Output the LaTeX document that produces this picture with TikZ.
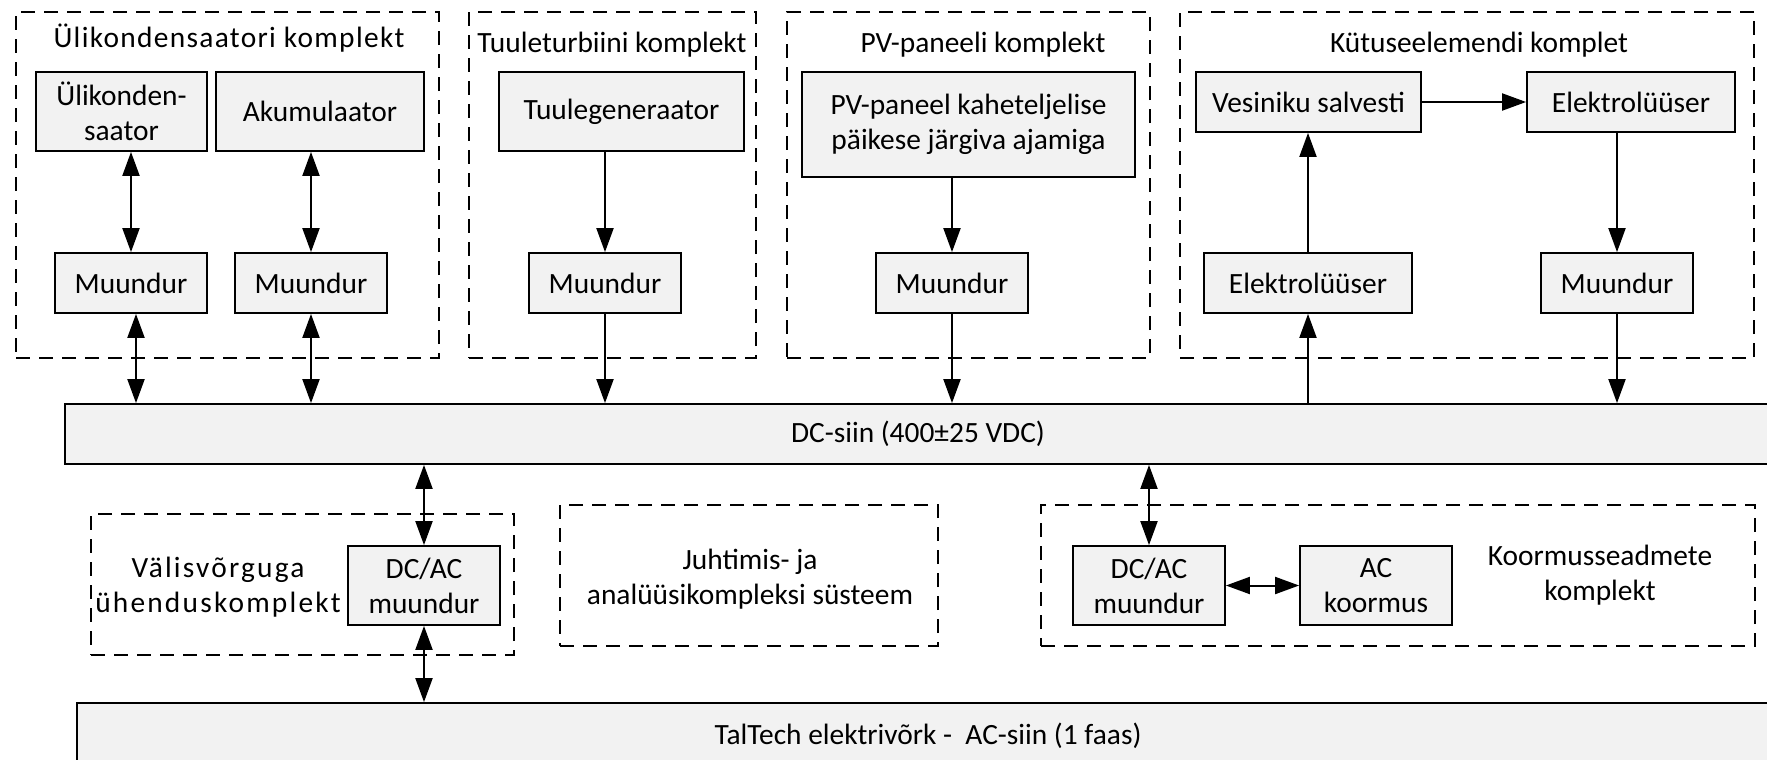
\documentclass[tikz,border=0pt]{standalone}
\usepackage{fontspec}
\setmainfont{Carlito}
\usetikzlibrary{arrows.meta,fit,calc}
\definecolor{boxfill}{HTML}{F2F2F2}
\begin{document}
\begin{tikzpicture}[x=0.5pt,y=-0.5pt,
  every node/.style={font=\fontsize{14.7pt}{17.5pt}\selectfont},
  blk/.style={draw, line width=0.9pt, fill=boxfill, inner sep=0pt, align=center},
  conv/.style={blk, minimum width=76pt, minimum height=30pt},
  grp/.style={draw, line width=0.9pt, dash pattern=on 7pt off 4.5pt, inner sep=0pt},
  ttl/.style={align=center, inner sep=0pt},
  tip/.tip={Triangle[length=12pt,width=8.5pt]},
  uni/.style={line width=1pt, -tip},
  bi/.style={line width=1pt, tip-tip},
]
\useasboundingbox (0,0) rectangle (1767,760);

% Supercapacitor set
\node[grp, fit={(16,12)(439,358)}] (g1) {};
\node[ttl, font=\fontsize{14.7pt}{17.5pt}\selectfont\addfontfeature{LetterSpace=4.5}] (g1t) at (229,38) {Ülikondensaatori komplekt};
\node[blk, minimum width=85.5pt, minimum height=39.5pt] (uk) at (121.5,111.5) {Ülikonden-\\saator};
\node[blk, minimum width=104pt, minimum height=39.5pt] (ak) at (320,111.5) {Akumulaator};
\node[conv] (m1) at (131,283) {Muundur};
\node[conv] (m2) at (311,283) {Muundur};

% Wind turbine set
\node[grp, fit={(469,12)(756,358)}] (g2) {};
\node[ttl] (g2t) at (612,45) {Tuuleturbiini komplekt};
\node[blk, minimum width=122.5pt, minimum height=39.5pt] (tg) at (621.5,111.5) {Tuulegeneraator};
\node[conv] (tm) at (605,283) {Muundur};

% PV panel set
\node[grp, fit={(787,12)(1150,358)}] (g3) {};
\node[ttl] (g3t) at (983,45) {PV-paneeli komplekt};
\node[blk, minimum width=166.5pt, minimum height=52.5pt] (pv) at (968.5,124.5) {PV-paneel kaheteljelise\\päikese järgiva ajamiga};
\node[conv] (pm) at (952,283) {Muundur};

% Fuel cell set
\node[grp, fit={(1180,12)(1754,358)}] (g4) {};
\node[ttl] (g4t) at (1479,45) {Kütuseelemendi komplet};
\node[blk, minimum width=112.5pt, minimum height=30pt] (vs) at (1308.5,102) {Vesiniku salvesti};
\node[blk, minimum width=104pt, minimum height=30pt] (el1) at (1631,102) {Elektrolüüser};
\node[blk, minimum width=104pt, minimum height=30pt] (el2) at (1308,283) {Elektrolüüser};
\node[conv] (fm) at (1617,283) {Muundur};

% Buses
\node[blk, minimum width=853pt, minimum height=30pt] (dc) at (918,434) {DC-siin (400±25 VDC)};
\node[blk, minimum width=851pt, minimum height=33pt] (ac) at (928,736) {TalTech elektrivõrk -\ \ AC-siin (1 faas)};

% Grid connection set
\node[grp, fit={(91,514)(514,655)}] (g5) {};
\node[ttl, font=\fontsize{14.7pt}{17.5pt}\selectfont\addfontfeature{LetterSpace=7.5}] (g5t) at (218,587) {Välisvõrguga\\ühenduskomplekt};
\node[blk, minimum width=76pt, minimum height=39.5pt] (wi) at (424,585.5) {DC/AC\\muundur};

% Control and analysis system
\node[grp, fit={(560,505)(938,646)}] (g6) {};
\node[ttl] (g6t) at (750,579) {Juhtimis- ja\\analüüsikompleksi süsteem};

% Load set
\node[grp, fit={(1041,505)(1755,646)}] (g7) {};
\node[blk, minimum width=76pt, minimum height=39.5pt] (kc) at (1149,585.5) {DC/AC\\muundur};
\node[blk, minimum width=76pt, minimum height=39.5pt] (ko) at (1376,585.5) {AC\\koormus};
\node[ttl] (g7t) at (1600,575) {Koormusseadmete\\komplekt};

% Connectors
\draw[bi] (uk.south -| m1) -- (m1.north);
\draw[bi] (ak.south -| m2) -- (m2.north);
\draw[bi] ($(m1.south)+(5,0)$) -- ($(m1.south |- dc.north)+(5,0)$);
\draw[bi] (m2.south) -- (m2.south |- dc.north);
\draw[uni] (tg.south -| tm) -- (tm.north);
\draw[uni] (tm.south) -- (tm.south |- dc.north);
\draw[uni] (pv.south -| pm) -- (pm.north);
\draw[uni] (pm.south) -- (pm.south |- dc.north);
\draw[uni] (vs.east) -- (el1.west);
\draw[uni] (el2.north) -- (el2.north |- vs.south);
\draw[uni] (el2.south |- dc.north) -- (el2.south);
\draw[uni] (el1.south -| fm) -- (fm.north);
\draw[uni] (fm.south) -- (fm.south |- dc.north);
\draw[bi] (dc.south -| wi) -- (wi.north);
\draw[bi] (wi.south) -- (wi.south |- ac.north);
\draw[bi] (dc.south -| kc) -- (kc.north);
\draw[bi] (kc.east) -- (ko.west);
\end{tikzpicture}
\end{document}
